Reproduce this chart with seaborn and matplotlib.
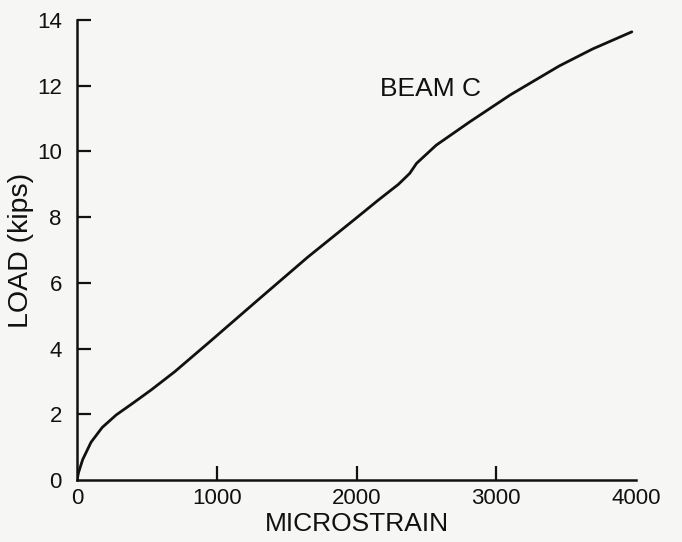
import matplotlib
matplotlib.use("Agg")
import matplotlib.pyplot as plt
import seaborn as sns
import pandas as pd

# values
microstrain = [0, 10, 40, 100, 180, 280, 400, 530, 700, 950, 1300, 1650, 2000,
               2150, 2300, 2380, 2430, 2570, 2810, 3100, 3450, 3690, 3970]
load_kips = [0, 0.22, 0.62, 1.15, 1.6, 1.98, 2.34, 2.74, 3.3, 4.21, 5.5, 6.78, 7.98,
             8.5, 9.0, 9.33, 9.64, 10.19, 10.9, 11.72, 12.6, 13.12, 13.64]
x_ticks = [0, 1000, 2000, 3000, 4000]
y_ticks = [0, 2, 4, 6, 8, 10, 12, 14]

sns.set_style("ticks")
plt.rcParams['font.family'] = ['Liberation Sans', 'DejaVu Sans']

df = pd.DataFrame({'strain': microstrain, 'load': load_kips})

fig = plt.figure(figsize=(6.82, 5.42), dpi=100, facecolor='#f6f6f4')
ax = fig.add_axes([0.113, 0.1144, 0.8196, 0.8487])
ax.set_facecolor('#f6f6f4')

sns.lineplot(data=df, x='strain', y='load', color='#111111', linewidth=2.0, ax=ax)

ax.set_xlim(0, 4000)
ax.set_ylim(0, 14)
ax.set_xticks(x_ticks)
ax.set_yticks(y_ticks)
ax.set_xticklabels([str(t) for t in x_ticks], fontsize=16)
ax.set_yticklabels([str(t) for t in y_ticks], fontsize=16)
ax.tick_params(direction='in', length=10, width=1.6, color='#111111', labelcolor='#111111')
ax.tick_params(axis='x', pad=6)
ax.tick_params(axis='y', pad=11)
# no tick marks at the corner or the end of the x axis
for t in (ax.xaxis.get_major_ticks()[0], ax.xaxis.get_major_ticks()[-1],
          ax.yaxis.get_major_ticks()[0]):
    t.tick1line.set_visible(False)

sns.despine(ax=ax)
for side in ('left', 'bottom'):
    ax.spines[side].set_linewidth(1.8)
    ax.spines[side].set_color('#111111')

ax.set_xlabel('MICROSTRAIN', fontsize=19, color='#111111', labelpad=2)
ax.set_ylabel('LOAD (kips)', fontsize=20.5, color='#111111', labelpad=2)
ax.text(2170, 11.7, 'BEAM C', fontsize=19, color='#111111')

fig.savefig('out.png', dpi=100, facecolor=fig.get_facecolor())
